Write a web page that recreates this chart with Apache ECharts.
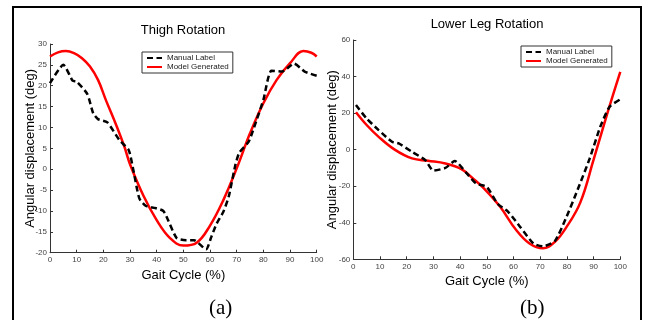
<!DOCTYPE html>
<html>
<head>
<meta charset="utf-8">
<script src="https://cdn.jsdelivr.net/npm/echarts@6/dist/echarts.min.js"></script>
<style>
  html, body { margin: 0; padding: 0; background: #fff; }
  #chart { width: 650px; height: 320px; }
</style>
</head>
<body>
<div id="chart"></div>
<script>
// (a) thigh rotation, gait cycle % vs angle in deg
const thighManualX = [0, 5, 8.5, 10, 14, 16.2, 18, 21.5, 26, 29.5, 31, 33.5, 36, 39.5, 42.5, 44, 47.5, 51, 54, 58.5, 60.5, 62.5, 65, 67, 69.5, 71, 74.5, 76.5, 80, 83, 87, 91.5, 95.5, 100];
const thighManualY = [20.6, 25, 21.2, 21, 18, 13.4, 12, 11.2, 7, 4.6, 0.6, -7, -8.8, -9.3, -10, -11.8, -16.5, -17, -17, -19.2, -16.2, -13, -10.2, -6.6, 1, 4, 6.6, 10, 16.6, 23.6, 23.4, 25.3, 23.4, 22.4];
const thighModelX = [0, 3, 6, 9, 12, 15, 18, 21, 25, 28, 30, 35, 40, 45, 50, 55, 60, 65, 70, 75, 80, 85, 90, 95, 98, 100];
const thighModelY = [27.0, 28.0, 28.3, 27.8, 26.6, 24.6, 21.4, 16.5, 10.3, 5.2, 1.2, -6.3, -12.2, -16.5, -18.3, -17.6, -13.5, -7.4, 0.2, 8.6, 15.8, 21.4, 25.4, 28.3, 27.9, 27.0];

// (b) lower leg rotation
const legManualX = [1, 5, 9.5, 14.5, 17, 22, 27, 30, 34.5, 38, 42.5, 46, 50, 54, 58, 62.5, 67.5, 71, 75.5, 79.5, 84, 88.5, 92.5, 96, 100];
const legManualY = [24.4, 17, 10.7, 4.3, 3.4, -1.2, -5.8, -11.5, -10, -6.2, -13, -18.5, -20.4, -29.5, -34, -42.3, -51.4, -52.9, -50, -38, -22, -5, 12.5, 23.5, 27.5];
const legModelX = [1, 5, 9.5, 15.5, 22, 28, 34.5, 40.5, 45, 49, 55, 61, 66, 71, 75.5, 80, 85, 90, 95.5, 100];
const legModelY = [20.5, 13.5, 7, 0, -4.8, -6.1, -7.6, -10.7, -16, -21.3, -31.3, -44, -51.4, -54, -50.5, -42, -29, -5.5, 21.6, 42.6];

const xTicks = [0, 10, 20, 30, 40, 50, 60, 70, 80, 90, 100];
const thighTicks = [-20, -15, -10, -5, 0, 5, 10, 15, 20, 25, 30];
const legTicks = [-60, -40, -20, 0, 20, 40, 60];

const pairs = (xs, ys) => xs.map((x, i) => [x, ys[i]]);

const FONT = '"Liberation Sans", Arial, sans-serif';
const axisLine = { onZero: false, lineStyle: { color: '#333', width: 1 } };
const axisTick = { inside: true, length: 3, lineStyle: { color: '#333' } };
const axisLabel = { color: '#444', fontSize: 8, fontFamily: FONT, margin: 3 };
const nameStyle = { color: '#000', fontSize: 13, fontFamily: FONT };

function xAxis(gridIndex, gap) {
  return {
    type: 'value', gridIndex, min: xTicks[0], max: xTicks[xTicks.length - 1], interval: xTicks[1] - xTicks[0],
    name: 'Gait Cycle (%)', nameLocation: 'middle', nameGap: gap, nameTextStyle: nameStyle,
    axisLine, axisTick, axisLabel, splitLine: { show: false },
  };
}
function yAxis(gridIndex, ticks, gap) {
  return {
    type: 'value', gridIndex,
    min: ticks[0], max: ticks[ticks.length - 1], interval: ticks[1] - ticks[0],
    name: 'Angular displacement (deg)', nameLocation: 'middle', nameGap: gap, nameMoveOverlap: false,
    nameTextStyle: nameStyle,
    axisLine: { show: true, ...axisLine }, axisTick, axisLabel, splitLine: { show: false },
  };
}
function manual(i, xs, ys) {
  return {
    name: 'Manual Label', type: 'line', xAxisIndex: i, yAxisIndex: i, data: pairs(xs, ys),
    symbol: 'none', smooth: 0.2, z: 3,
    lineStyle: { color: '#000', width: 2.5, type: [6, 3.5] }, itemStyle: { color: '#000' },
  };
}
function model(i, xs, ys) {
  return {
    name: 'Model Generated', type: 'line', xAxisIndex: i, yAxisIndex: i, data: pairs(xs, ys),
    symbol: 'none', smooth: 0.4, z: 2,
    lineStyle: { color: '#ff0000', width: 2.5 }, itemStyle: { color: '#ff0000' },
  };
}
function legend(left, top) {
  return {
    data: ['Manual Label', 'Model Generated'], orient: 'vertical', left, top,
    backgroundColor: '#fff', borderColor: '#333', borderWidth: 1, borderRadius: 0,
    padding: [2, 4, 2, 4], itemGap: 1, itemWidth: 15, itemHeight: 2,
    itemStyle: { opacity: 0 },
    textStyle: { color: '#222', fontSize: 8, fontFamily: FONT, padding: [1, 0, 1, 0] },
  };
}

const chart = echarts.init(document.getElementById('chart'), null, { renderer: 'canvas' });
chart.setOption({
  animation: false,
  backgroundColor: '#fff',
  title: [
    { text: 'Thigh Rotation', left: 183, top: 24, textAlign: 'center', padding: 0,
      textStyle: { fontSize: 13, fontWeight: 'normal', color: '#000', fontFamily: FONT } },
    { text: 'Lower Leg Rotation', left: 487, top: 18, textAlign: 'center', padding: 0,
      textStyle: { fontSize: 13, fontWeight: 'normal', color: '#000', fontFamily: FONT } },
  ],
  legend: [legend(142, 52), legend(521, 46)],
  grid: [
    { left: 50, top: 44, width: 266.7, height: 208.7 },
    { left: 353.3, top: 40, width: 267, height: 219.3 },
  ],
  xAxis: [xAxis(0, 14), xAxis(1, 16)],
  yAxis: [yAxis(0, thighTicks, 13), yAxis(1, legTicks, 14)],
  series: [
    manual(0, thighManualX, thighManualY),
    model(0, thighModelX, thighModelY),
    manual(1, legManualX, legManualY),
    model(1, legModelX, legModelY),
  ],
  graphic: [
    { type: 'rect', silent: true, shape: { x: 13, y: 7, width: 628, height: 340 },
      style: { fill: 'none', stroke: '#000', lineWidth: 2 } },
    { type: 'text', left: 209, top: 298, silent: true,
      style: { text: '(a)', fontSize: 21, fontFamily: '"Liberation Serif", "Times New Roman", serif', fill: '#000' } },
    { type: 'text', left: 520, top: 298, silent: true,
      style: { text: '(b)', fontSize: 21, fontFamily: '"Liberation Serif", "Times New Roman", serif', fill: '#000' } },
  ],
});
</script>
</body>
</html>
